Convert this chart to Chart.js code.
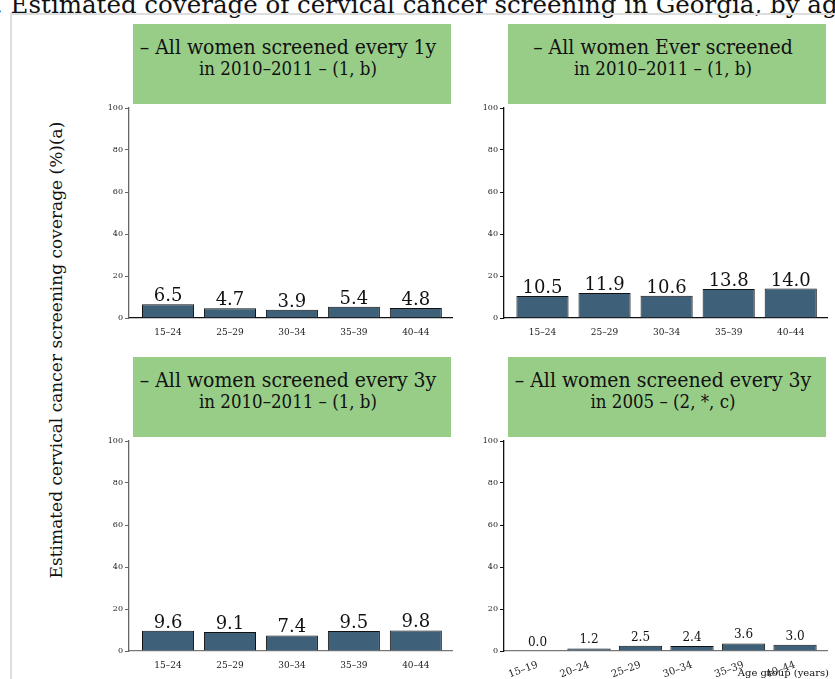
<!DOCTYPE html>
<html lang="en">
<head>
<meta charset="UTF-8">
<title>Estimated coverage of cervical cancer screening in Georgia, by age group</title>
<script src="https://cdn.jsdelivr.net/npm/chart.js"></script>
<style>
  body { margin: 0; width: 835px; height: 679px; overflow: hidden; background: #fff; position: relative; font-family: "DejaVu Serif", serif; color: #111; }
  .title { position: absolute; left: -5px; top: -10px; font-size: 24.5px; white-space: nowrap; }
  .frame { position: absolute; left: 10px; top: 13px; width: 900px; height: 720px; border: 2px solid #ddd; }
  .ylab { position: absolute; left: 56px; top: 350px; transform: translate(-50%, -50%) rotate(-90deg); font-size: 17px; white-space: nowrap; }
  .head { position: absolute; width: 318px; height: 80px; background: #98cd88; text-align: center; box-sizing: border-box; padding-right: 8px;
          font-family: "DejaVu Serif Condensed", "DejaVu Serif", serif; font-stretch: condensed; white-space: nowrap; }
  .head .l1 { margin-top: 12px; font-size: 21px; line-height: 22px; }
  .head .l2 { margin-top: 1px; font-size: 18.5px; line-height: 20px; }
  canvas { position: absolute; }
  .xlab { position: absolute; right: 6px; top: 667px; font-size: 10px; white-space: nowrap; }
</style>
</head>
<body>
<div class="title">. Estimated coverage of cervical cancer screening in Georgia, by age group</div>
<div class="frame"></div>
<div class="ylab">Estimated cervical cancer screening coverage (%)(a)</div>

<div class="head" style="left:133px;top:24px"><div class="l1">– All women screened every 1y</div><div class="l2">in 2010–2011 – (1, b)</div></div>
<div class="head" style="left:508px;top:24px"><div class="l1">– All women Ever screened</div><div class="l2">in 2010–2011 – (1, b)</div></div>
<div class="head" style="left:133px;top:357px"><div class="l1">– All women screened every 3y</div><div class="l2">in 2010–2011 – (1, b)</div></div>
<div class="head" style="left:508px;top:357px"><div class="l1">– All women screened every 3y</div><div class="l2">in 2005 – (2, *, c)</div></div>

<canvas id="c1" width="363" height="240" style="left:90px;top:100px"></canvas>
<canvas id="c2" width="363" height="240" style="left:465px;top:100px"></canvas>
<canvas id="c3" width="363" height="240" style="left:90px;top:433px"></canvas>
<canvas id="c4" width="363" height="246" style="left:465px;top:433px"></canvas>
<div class="xlab">Age group (years)</div>

<script>
  const ageGroups = ['15–24', '25–29', '30–34', '35–39', '40–44'];
  const ageGroups2005 = ['15–19', '20–24', '25–29', '30–34', '35–39', '40–44'];
  const every1y = [6.5, 4.7, 3.9, 5.4, 4.8];
  const everScreened = [10.5, 11.9, 10.6, 13.8, 14.0];
  const every3y = [9.6, 9.1, 7.4, 9.5, 9.8];
  const every3y2005 = [0.0, 1.2, 2.5, 2.4, 3.6, 3.0];
  const yTicks = [0, 20, 40, 60, 80, 100];

  const serif = 'DejaVu Serif';

  // value labels above each bar
  const valueLabels = {
    id: 'valueLabels',
    afterDatasetsDraw(chart, args, opts) {
      const ctx = chart.ctx;
      const meta = chart.getDatasetMeta(0);
      ctx.save();
      ctx.font = opts.size + 'px "' + serif + '"';
      ctx.fillStyle = '#111';
      ctx.textAlign = 'center';
      ctx.textBaseline = 'alphabetic';
      meta.data.forEach((bar, i) => {
        const v = chart.data.datasets[0].data[i].y;
        ctx.fillText(v.toFixed(1), bar.x, bar.y - opts.gap);
      });
      ctx.restore();
    }
  };

  function makeChart(id, labels, values, o) {
    new Chart(document.getElementById(id), {
      type: 'bar',
      data: {
        datasets: [{
          data: values.map((v, i) => ({ x: i, y: v })),
          backgroundColor: '#3e6079',
          borderColor: '#111',
          borderWidth: 1,
          barPercentage: 0.84,
          categoryPercentage: 1
        }]
      },
      options: {
        responsive: false,
        animation: false,
        layout: { padding: { top: 8, right: 0, left: 0, bottom: 0 } },
        plugins: {
          legend: { display: false },
          tooltip: { enabled: false },
          valueLabels: { size: o.labelSize, gap: o.gap }
        },
        scales: {
          x: {
            type: 'linear',
            offset: false,
            min: o.xmin,
            max: labels.length - 1 + o.xpad,
            afterBuildTicks: s => { s.ticks = labels.map((_, i) => ({ value: i })); },
            afterFit: s => { s.height = o.xh; },
            grid: { display: false, drawTicks: false },
            border: { display: true, color: o.xColor, width: 1.3 },
            ticks: {
              callback: v => labels[v],
              autoSkip: false,
              minRotation: o.rot, maxRotation: o.rot,
              padding: o.rot ? 8 : 9,
              color: '#222',
              font: { family: serif, size: o.tickSize }
            }
          },
          y: {
            min: 0, max: 100,
            afterBuildTicks: s => { s.ticks = yTicks.map(v => ({ value: v })); },
            afterFit: s => { s.width = 39; },
            grid: { display: true, drawOnChartArea: false, drawTicks: true, tickLength: 4, color: o.yColor },
            border: { display: true, color: o.yColor, width: 1.3 },
            ticks: { padding: 2, color: '#222', font: { family: serif, size: 8 } }
          }
        }
      },
      plugins: [valueLabels]
    });
  }

  makeChart('c1', ageGroups, every1y, { xmin: -0.63, xpad: 0.6, xh: 22, rot: 0, tickSize: 9, labelSize: 18, gap: 3, xColor: '#111', yColor: '#666' });
  makeChart('c2', ageGroups, everScreened, { xmin: -0.62, xpad: 0.6, xh: 22, rot: 0, tickSize: 9, labelSize: 18, gap: 3, xColor: '#111', yColor: '#111' });
  makeChart('c3', ageGroups, every3y, { xmin: -0.63, xpad: 0.6, xh: 22, rot: 0, tickSize: 9, labelSize: 18, gap: 3, xColor: '#777', yColor: '#666' });
  makeChart('c4', ageGroups2005, every3y2005, { xmin: -0.65, xpad: 0.64, xh: 28, rot: 20, tickSize: 10, labelSize: 12, gap: 5, xColor: '#777', yColor: '#111' });
</script>
</body>
</html>
